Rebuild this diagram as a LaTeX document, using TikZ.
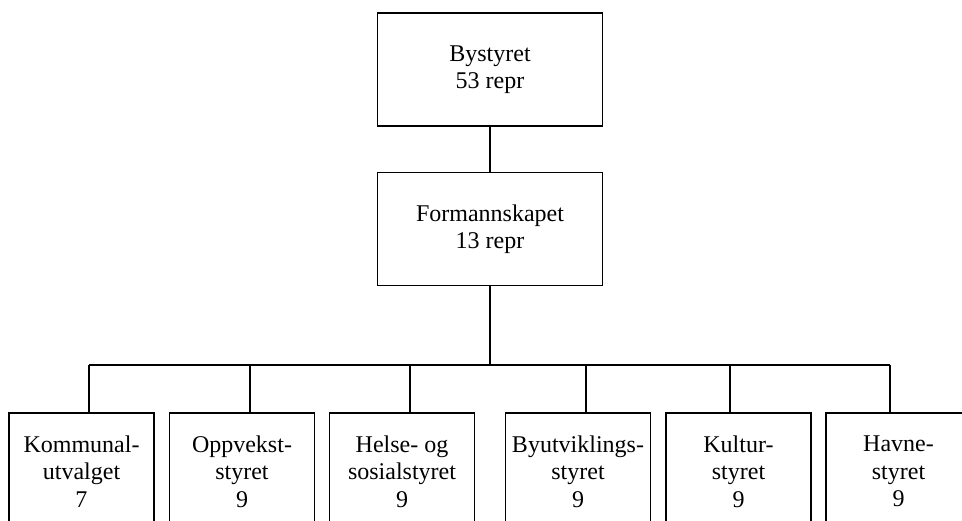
\documentclass[tikz,border=0pt]{standalone}
\usepackage{fontspec}
\setmainfont{Liberation Serif}
\begin{document}
\begin{tikzpicture}[x=1pt,y=-1pt,
  box/.style={draw, line width=1.8pt, inner sep=0pt, outer sep=0pt, align=center,
    font=\fontsize{24}{27.5}\selectfont},
  topbox/.style={box, minimum width=225pt, minimum height=113pt},
  subbox/.style={box, minimum width=145pt, minimum height=117pt},
  conn/.style={line width=1.8pt}]
\clip (0,0) rectangle (962,521);
\useasboundingbox (0,0) rectangle (962,521);
\node[topbox] (by) at (490,69.5) {Bystyret\\53 repr};
\node[topbox] (fo) at (490,229) {Formannskapet\\13 repr};
\node[subbox] (k) at (81.5,471.5) {Kommunal-\\utvalget\\7};
\node[subbox] (o) at (242,471.5) {Oppvekst-\\styret\\9};
\node[subbox] (h) at (402,471.5) {Helse- og\\sosialstyret\\9};
\node[subbox] (b) at (578,471.5) {Byutviklings-\\styret\\9};
\node[subbox] (ku) at (738.5,471.5) {Kultur-\\styret\\9};
\node[subbox, draw=none] (ha) at (898.5,471.5) {Havne-\\styret\\9};
\draw[conn] (ha.north west) rectangle ++(200,140);
\coordinate (bus) at (490,365);
\coordinate (b1) at (89,365);
\coordinate (b2) at (250,365);
\coordinate (b3) at (410,365);
\coordinate (b4) at (586,365);
\coordinate (b5) at (730,365);
\coordinate (b6) at (890,365);
\draw[conn] (by.south) -- (fo.north);
\draw[conn] (fo.south) -- (fo.south |- bus);
\draw[conn] (b1) -- (b6);
\draw[conn] (b1) -- (b1 |- k.north);
\draw[conn] (b2) -- (b2 |- o.north);
\draw[conn] (b3) -- (b3 |- h.north);
\draw[conn] (b4) -- (b4 |- b.north);
\draw[conn] (b5) -- (b5 |- ku.north);
\draw[conn] (b6) -- (b6 |- ha.north);
\end{tikzpicture}
\end{document}
